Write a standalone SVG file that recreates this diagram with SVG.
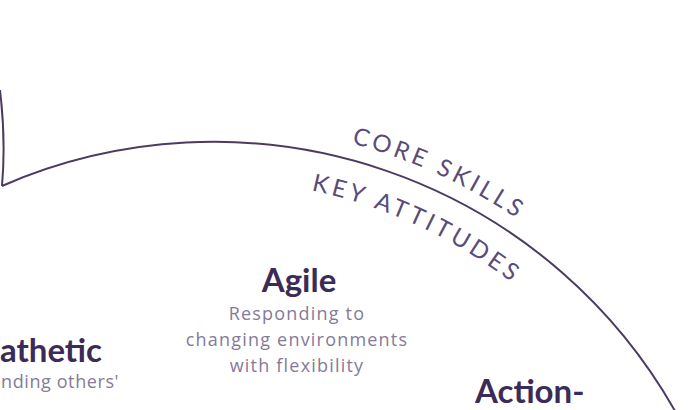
<svg xmlns="http://www.w3.org/2000/svg" width="692" height="410" viewBox="0 0 692 410">
  <style>
    .ring { fill: none; stroke: #4b3b63; stroke-width: 2; }
    .band { font-family: Lato, "Liberation Sans", sans-serif; font-weight: 400; font-size: 24px; letter-spacing: 3.8px; fill: #5a4c78; }
    .title { font-family: Lato, "Liberation Sans", sans-serif; font-weight: 700; font-size: 33px; fill: #3d2b57; }
    .desc { font-family: "Open Sans", "Liberation Sans", sans-serif; font-size: 18px; fill: #857a99; letter-spacing: 1.2px; }
  </style>
  <defs>
    <path id="outerArc" d="M 211 125 A 547 547 0 0 1 684.7 398.5"/>
    <path id="innerArc" d="M 211 180 A 492 492 0 0 1 637.1 426"/>
  </defs>
  <rect width="692" height="410" fill="#ffffff"/>
  <g id="connectors">
    <path class="ring" d="M 0 90 Q 6 140 2 186"/>
    <path class="ring" d="M 2 186 A 530 530 0 0 1 680 420"/>
  </g>
  <g id="band-labels">
    <text class="band"><textPath href="#outerArc" startOffset="142">CORE SKILLS</textPath></text>
    <text class="band"><textPath href="#innerArc" startOffset="101">KEY ATTITUDES</textPath></text>
  </g>
  <g id="node-agile">
    <text class="title" x="299" y="292" text-anchor="middle">Agile</text>
    <text class="desc" x="297" y="320" text-anchor="middle">Responding to</text>
    <text class="desc" x="297" y="346" text-anchor="middle">changing environments</text>
    <text class="desc" x="297" y="372" text-anchor="middle">with flexibility</text>
  </g>
  <g id="node-empathetic">
    <text class="title" x="0" y="362">athetic</text>
    <text class="desc" x="1" y="388" style="letter-spacing:0.6px">nding others'</text>
  </g>
  <g id="node-action">
    <text class="title" x="475" y="403">Action-</text>
  </g>
</svg>
